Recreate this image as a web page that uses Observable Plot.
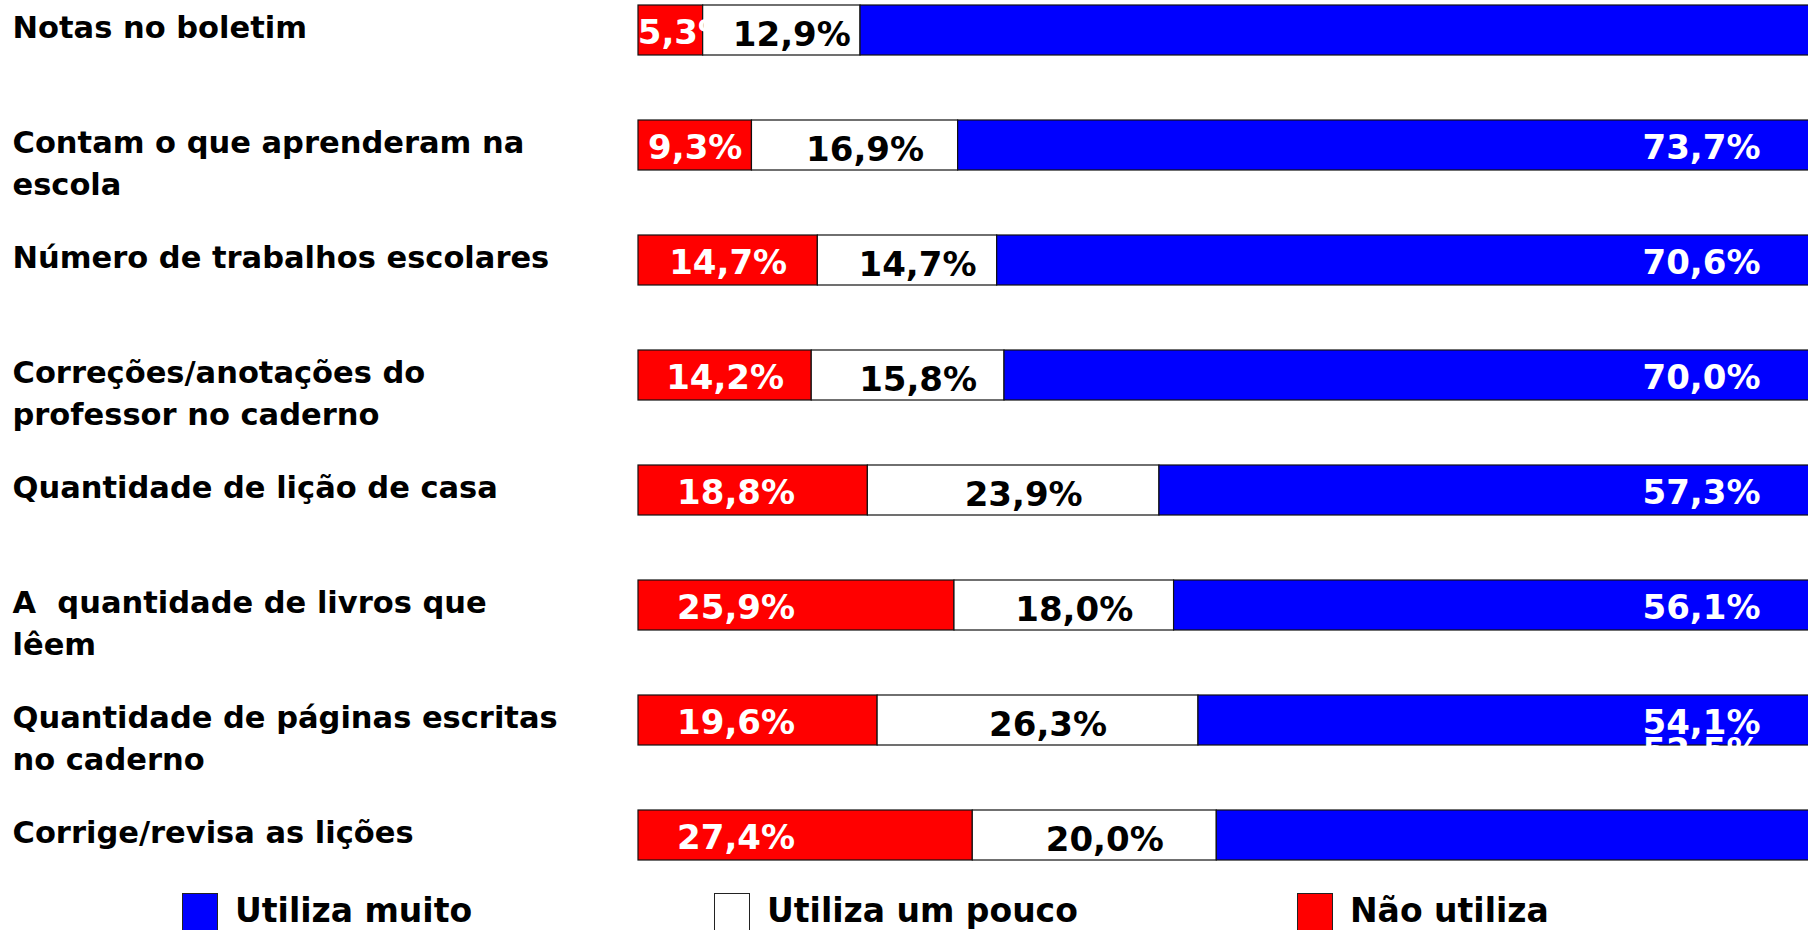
<!DOCTYPE html>
<html><head><meta charset="utf-8">
<script src="https://cdn.jsdelivr.net/npm/d3@7"></script>
<script src="https://cdn.jsdelivr.net/npm/@observablehq/plot@0.6"></script>
<style>
html,body{margin:0;padding:0;background:#fff;overflow:hidden;}
#chart svg{display:block;}
#legend{position:relative;width:1808px;height:50px;font-family:"DejaVu Sans";font-weight:bold;font-size:33px;color:#000;}
.sw{position:absolute;top:13px;width:36px;height:38px;border:1.5px solid #222;box-sizing:border-box;}
.lt{position:absolute;top:14px;line-height:33px;white-space:nowrap;}
</style></head><body>
<div id="chart"></div>
<div id="legend"></div>
<script>
const categories = [
  "Notas no boletim",
  "Contam o que aprenderam na\nescola",
  "Número de trabalhos escolares",
  "Correções/anotações do\nprofessor no caderno",
  "Quantidade de lição de casa",
  "A\u00a0 quantidade de livros que\nlêem",
  "Quantidade de páginas escritas\nno caderno",
  "Corrige/revisa as lições"
];
const naoUtiliza   = [5.3, 9.3, 14.7, 14.2, 18.8, 25.9, 19.6, 27.4];
const utilizaPouco = [12.9, 16.9, 14.7, 15.8, 23.9, 18.0, 26.3, 20.0];
const utilizaMuito = [81.8, 73.7, 70.6, 70.0, 57.3, 56.1, 54.1, 52.5];
const seriesNames  = ["Não utiliza", "Utiliza um pouco", "Utiliza muito"];
const seriesColors = ["#ff0000", "#ffffff", "#0000ff"];

const seriesArrays = [naoUtiliza, utilizaPouco, utilizaMuito];
const rows = [];
categories.forEach((c, i) => {
  seriesArrays.forEach((arr, j) => rows.push({cat: c, serie: seriesNames[j], value: arr[i], i}));
});
const fmt = d => d.value.toFixed(1).replace(".", ",") + "%";
const redRows = rows.filter(d => d.serie === seriesNames[0]);
const whiteRows = rows.filter(d => d.serie === seriesNames[1]);
const blueRows = rows.filter(d => d.serie === seriesNames[2]);
const LF = 34;

const chart = Plot.plot({
  width: 1808,
  height: 880,
  marginLeft: 0, marginRight: 0, marginTop: 0, marginBottom: 0,
  style: {fontFamily: "DejaVu Sans", fontSize: "30px", background: "#fff"},
  x: {domain: [0, 100], range: [638, 1858], axis: null},
  y: {domain: categories, range: [2, 862], paddingInner: 0.568, paddingOuter: 0, axis: null},
  color: {domain: seriesNames, range: seriesColors},
  marks: [
    Plot.barX(rows, {x: "value", y: "cat", fill: "serie", stroke: "#111", strokeWidth: 1.2, order: seriesNames}),
    Plot.text(redRows, {x: d => Math.max(Math.min(d.value / 2, 8), 3.8), dy: 3, y: "cat", text: fmt, fill: "white", fontWeight: "bold", fontSize: LF}),
    Plot.text(whiteRows, {x: d => naoUtiliza[d.i] + d.value / 2, dx: 10, dy: 5, y: "cat", text: fmt, fill: "black", fontWeight: "bold", fontSize: LF}),
    Plot.text(blueRows.filter(d => d.i >= 1 && d.i <= 6), {x: () => 100, dx: -98, dy: 3, textAnchor: "end", y: "cat", text: fmt, fill: "white", fontWeight: "bold", fontSize: LF}),
    Plot.text(blueRows.filter(d => d.i === 7), {x: () => 100, dx: -98, dy: -84, textAnchor: "end", y: "cat", text: fmt, fill: "white", fontWeight: "bold", fontSize: LF}),
    Plot.text(categories, {y: d => d, text: d => d, frameAnchor: "left", dx: 12, textAnchor: "start", lineAnchor: "top", lineHeight: 1.38, dy: -22, fill: "black", fontWeight: "bold", fontSize: 30.5})
  ]
});
document.getElementById("chart").appendChild(chart);

// legend (HTML, below the chart)
const legendOrder = [2, 1, 0];
const legendLefts = [182, 714, 1297];
const legend = document.getElementById("legend");
legendOrder.forEach((j, k) => {
  const sw = document.createElement("div");
  sw.className = "sw";
  sw.style.left = legendLefts[k] + "px";
  sw.style.background = seriesColors[j];
  legend.appendChild(sw);
  const t = document.createElement("div");
  t.className = "lt";
  t.style.left = (legendLefts[k] + 53) + "px";
  t.textContent = seriesNames[j];
  legend.appendChild(t);
});
</script>
</body></html>
